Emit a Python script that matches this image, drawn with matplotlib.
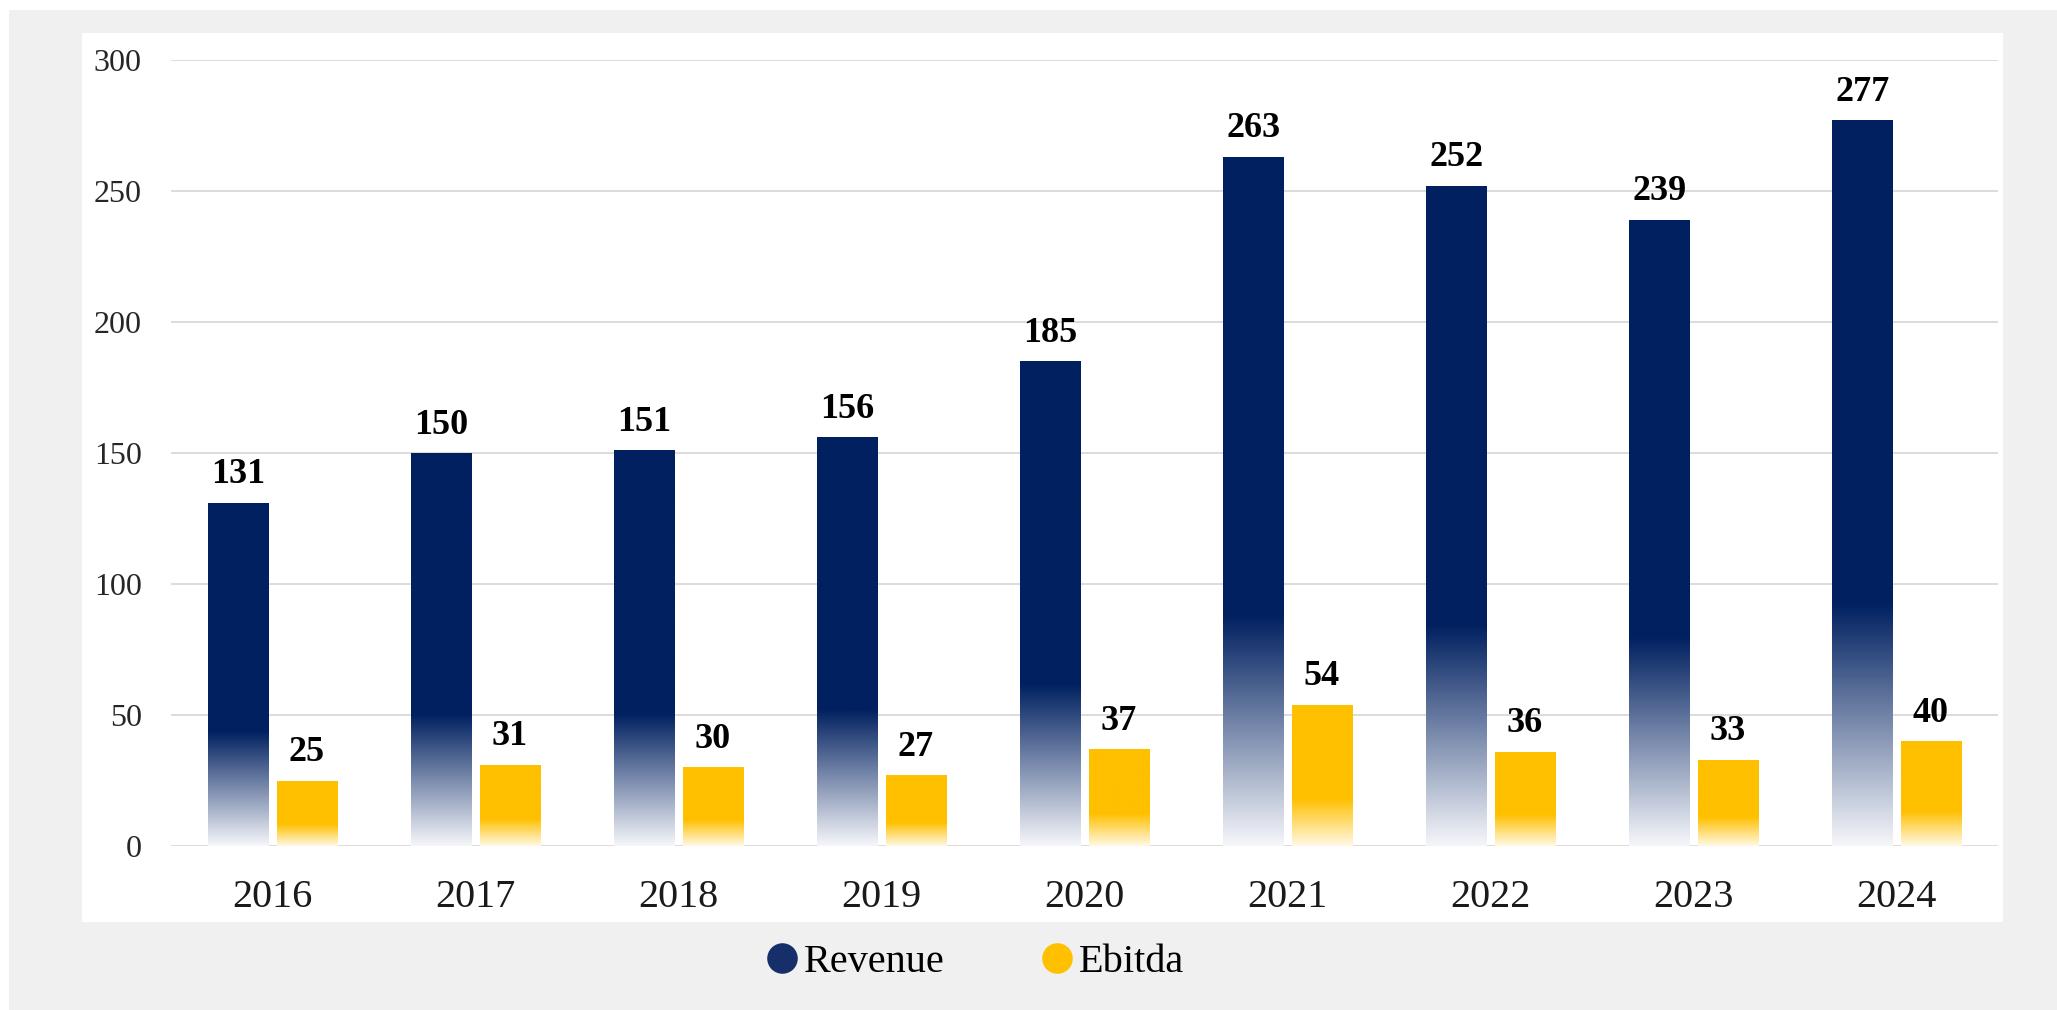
import numpy as np
import matplotlib
matplotlib.use('Agg')
import matplotlib.pyplot as plt
from matplotlib.patches import Rectangle
from matplotlib.lines import Line2D
from matplotlib.colors import to_rgb

years = ["2016", "2017", "2018", "2019", "2020", "2021", "2022", "2023", "2024"]
revenue = [131, 150, 151, 156, 185, 263, 252, 239, 277]
ebitda = [25, 31, 30, 27, 37, 54, 36, 33, 40]
y_ticks = [0, 50, 100, 150, 200, 250, 300]

navy = "#002060"
gold = "#FFC000"
serif = "Liberation Serif"
W, H = 2057, 1010

fig = plt.figure(figsize=(W / 100, H / 100), dpi=100)
fig.patch.set_facecolor("white")
# grey frame + white card behind the chart
fig.add_artist(Rectangle((9 / W, 0), 1, 1 - 10 / H, transform=fig.transFigure,
                         facecolor="#f0f0f0", edgecolor="none", zorder=-10))
fig.add_artist(Rectangle((82 / W, 1 - 922 / H), 1921 / W, 889 / H, transform=fig.transFigure,
                         facecolor="white", edgecolor="none", zorder=-9))

ax = fig.add_axes([171 / W, 1 - 846 / H, 1827 / W, 786 / H])
ax.patch.set_alpha(0)

x = np.arange(len(years))
bw = 0.296
off = 0.168


def fade_bars(bars, color, bottom_rgb):
    # solid colour on top, bottom third fades toward near white
    c = np.array(to_rgb(color))
    b = np.array(bottom_rgb)
    t = np.linspace(0, 1, 300)[:, None]
    k = np.clip(t * 3, 0, 1)
    grad = b + (c - b) * k
    img = grad[:, None, :]
    for bar in bars:
        x0 = bar.get_x()
        im = ax.imshow(img, extent=[x0, x0 + bar.get_width(), 0, bar.get_height()],
                       origin="lower", aspect="auto", interpolation="bilinear", zorder=3)
        im.set_clip_path(bar)


rb = ax.bar(x - off, revenue, bw, color=navy, zorder=2)
eb = ax.bar(x + off, ebitda, bw, color=gold, zorder=2)
fade_bars(rb, navy, (0.96, 0.965, 0.98))
fade_bars(eb, gold, (1.0, 0.975, 0.90))

for xs, vals in ((x - off, revenue), (x + off, ebitda)):
    for xi, v in zip(xs, vals):
        ax.annotate(str(v), (xi, v), xytext=(0, 14), textcoords="offset points",
                    ha="center", va="baseline", fontsize=26, fontweight="bold",
                    family=serif, color="black")

ax.set_xlim(-0.5, len(years) - 0.5)
ax.set_ylim(0, 300)
ax.set_yticks(y_ticks)
ax.set_yticklabels([str(t) for t in y_ticks], family=serif, fontsize=23, color="#262626")
ax.set_xticks(x)
ax.set_xticklabels(years, family=serif, fontsize=29, color="#1a1a1a")
ax.tick_params(axis="y", length=0, pad=21)
ax.tick_params(axis="x", length=0, pad=24)
ax.grid(axis="y", color="#d9d9d9", linewidth=1.3, zorder=0)
ax.set_axisbelow(True)
for s in ax.spines.values():
    s.set_visible(False)

handles = [Line2D([], [], marker="o", linestyle="none", markersize=22,
                  markerfacecolor="#162e6a", markeredgecolor="none"),
           Line2D([], [], marker="o", linestyle="none", markersize=22,
                  markerfacecolor=gold, markeredgecolor="none")]
fig.legend(handles, ["Revenue", "Ebitda"], loc="center", bbox_to_anchor=(0.474, 1 - 962 / H),
           ncol=2, frameon=False, handlelength=0.8, handletextpad=0.15, columnspacing=2.4,
           prop={"family": serif, "size": 29})

fig.savefig("out.png", dpi=100)
